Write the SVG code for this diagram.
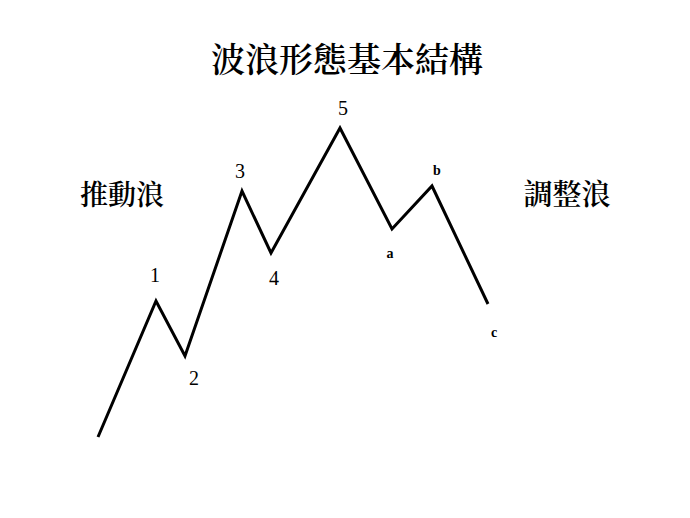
<svg xmlns="http://www.w3.org/2000/svg" width="690" height="518" viewBox="0 0 690 518">
<style>
.cjk{font-family:"Noto Serif CJK TC","Noto Sans CJK TC","Noto Sans CJK SC",sans-serif;fill:#000;font-weight:600}
.num{font-family:"Liberation Serif",serif;font-size:20px;fill:#000;text-anchor:middle}
.let{font-family:"Liberation Serif",serif;font-size:14px;font-weight:bold;fill:#000;text-anchor:middle}
.wave{fill:none;stroke:#000;stroke-width:3;stroke-linejoin:miter}
</style>
<rect width="690" height="518" fill="#fff"/>
<g id="title"><text class="cjk" x="347" y="72" font-size="34" text-anchor="middle">波浪形態基本結構</text></g>
<g id="impulse"><text class="cjk" x="122" y="205" font-size="28" text-anchor="middle">推動浪</text></g>
<g id="corrective"><text class="cjk" x="567" y="205" font-size="29" text-anchor="middle">調整浪</text></g>
<g id="connectors">
<polyline class="wave" points="98,437 156,301 185,356 242,191 271,253 340,128 392,229 432,186 488,304"/>
</g>
<g id="labels">
<text class="num" x="155" y="282">1</text>
<text class="num" x="194" y="385">2</text>
<text class="num" x="240" y="178">3</text>
<text class="num" x="274" y="285">4</text>
<text class="num" x="343" y="115">5</text>
<text class="let" x="390" y="258">a</text>
<text class="let" x="437" y="175">b</text>
<text class="let" x="494" y="337">c</text>
</g>
</svg>
